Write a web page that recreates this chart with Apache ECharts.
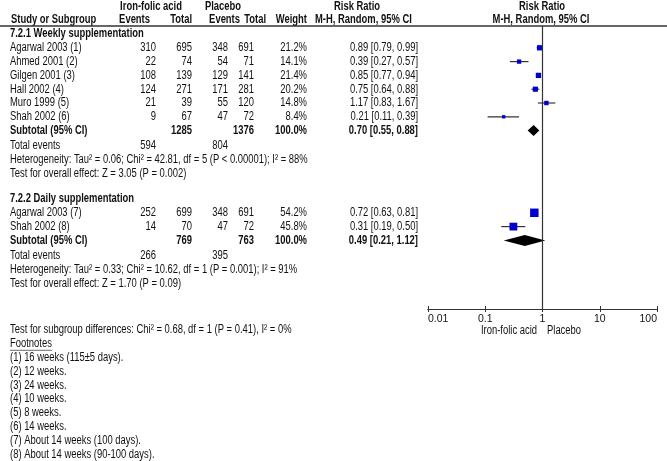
<!DOCTYPE html>
<html><head><meta charset="utf-8">
<script src="https://cdn.jsdelivr.net/npm/echarts@6/dist/echarts.min.js"></script>
<style>html,body{margin:0;padding:0;background:#fff}#c{width:667px;height:461px}</style>
</head><body><div id="c"></div>
<script>
// ---------------- data ----------------
const groupTitles = ['7.2.1 Weekly supplementation', '7.2.2 Daily supplementation'];

const g1Studies = ['Agarwal 2003 (1)', 'Ahmed 2001 (2)', 'Gilgen 2001 (3)', 'Hall 2002 (4)', 'Muro 1999 (5)', 'Shah 2002 (6)'];
const g1IronEvents = [310, 22, 108, 124, 21, 9];
const g1IronTotal = [695, 74, 139, 271, 39, 67];
const g1PlacEvents = [348, 54, 129, 171, 55, 47];
const g1PlacTotal = [691, 71, 141, 281, 120, 72];
const g1Weight = [21.2, 14.1, 21.4, 20.2, 14.8, 8.4];
const g1RR = [0.89, 0.39, 0.85, 0.75, 1.17, 0.21];
const g1Lo = [0.79, 0.27, 0.77, 0.64, 0.83, 0.11];
const g1Hi = [0.99, 0.57, 0.94, 0.88, 1.67, 0.39];

const g2Studies = ['Agarwal 2003 (7)', 'Shah 2002 (8)'];
const g2IronEvents = [252, 14];
const g2IronTotal = [699, 70];
const g2PlacEvents = [348, 47];
const g2PlacTotal = [691, 72];
const g2Weight = [54.2, 45.8];
const g2RR = [0.72, 0.31];
const g2Lo = [0.63, 0.19];
const g2Hi = [0.81, 0.50];

const subIronTotal = [1285, 769];
const subPlacTotal = [1376, 763];
const subWeight = [100.0, 100.0];
const subRR = [0.70, 0.49];
const subLo = [0.55, 0.21];
const subHi = [0.88, 1.12];
const totIronEvents = [594, 266];
const totPlacEvents = [804, 395];

const heterogeneity = [
  'Heterogeneity: Tau\u00B2 = 0.06; Chi\u00B2 = 42.81, df = 5 (P < 0.00001); I\u00B2 = 88%',
  'Heterogeneity: Tau\u00B2 = 0.33; Chi\u00B2 = 10.62, df = 1 (P = 0.001); I\u00B2 = 91%'
];
const overallEffect = [
  'Test for overall effect: Z = 3.05 (P = 0.002)',
  'Test for overall effect: Z = 1.70 (P = 0.09)'
];
const subgroupDiff = 'Test for subgroup differences: Chi\u00B2 = 0.68, df = 1 (P = 0.41), I\u00B2 = 0%';
const footnotes = [
  '(1) 16 weeks (115\u00B15 days).',
  '(2) 12 weeks.',
  '(3) 24 weeks.',
  '(4) 10 weeks.',
  '(5) 8 weeks.',
  '(6) 14 weeks.',
  '(7) About 14 weeks (100 days).',
  '(8) About 14 weeks (90-100 days).'
];
const axisTickLabels = ['0.01', '0.1', '1', '10', '100'];
const favoursLeft = 'Iron-folic acid';
const favoursRight = 'Placebo';

// ---------------- layout ----------------
const groups = [
  {studies: g1Studies, ie: g1IronEvents, it: g1IronTotal, pe: g1PlacEvents, pt: g1PlacTotal, w: g1Weight, rr: g1RR, lo: g1Lo, hi: g1Hi},
  {studies: g2Studies, ie: g2IronEvents, it: g2IronTotal, pe: g2PlacEvents, pt: g2PlacTotal, w: g2Weight, rr: g2RR, lo: g2Lo, hi: g2Hi}
];
const PITCH = 13.8;
const groupStartY = [34, 199];
const LINE_Y = 26, AXIS_Y = 309;
const X = {name: 10, ie: 156, it: 192, pe: 228, pt: 254, w: 307, rr: 418};
const FONT = '"Liberation Sans", Arial, sans-serif';
const FS = 12;
const SX = 0.785;
const COL = '#111';

const texts = [];
function T(text, x, y, align, bold) { texts.push({text: String(text), x, y, align: align || 'left', bold: !!bold}); }
const f2 = v => v.toFixed(2);
const ci = (r, l, h) => f2(r) + ' [' + f2(l) + ', ' + f2(h) + ']';

// headers
T('Iron-folic acid', 151, 7, 'center', true);
T('Placebo', 223, 7, 'center', true);
T('Risk Ratio', 334, 7, 'left', true);
T('Risk Ratio', 542, 7, 'center', true);
T('Study or Subgroup', 11, 20, 'left', true);
T('Events', 150, 20, 'right', true);
T('Total', 192, 20, 'right', true);
T('Events', 240, 20, 'right', true);
T('Total', 266, 20, 'right', true);
T('Weight', 307, 20, 'right', true);
T('M-H, Random, 95% CI', 315, 20, 'left', true);
T('M-H, Random, 95% CI', 541, 20, 'center', true);

const studyPts = [], diamondPts = [];
groups.forEach((g, gi) => {
  const y0 = groupStartY[gi];
  T(groupTitles[gi], X.name, y0, 'left', true);
  const n = g.studies.length;
  for (let i = 0; i < n; i++) {
    const y = y0 + PITCH * (i + 1);
    T(g.studies[i], X.name, y);
    T(g.ie[i], X.ie, y, 'right');
    T(g.it[i], X.it, y, 'right');
    T(g.pe[i], X.pe, y, 'right');
    T(g.pt[i], X.pt, y, 'right');
    T(g.w[i].toFixed(1) + '%', X.w, y, 'right');
    T(ci(g.rr[i], g.lo[i], g.hi[i]), X.rr, y, 'right');
    studyPts.push([g.rr[i], g.lo[i], g.hi[i], y, g.w[i]]);
  }
  const ys = y0 + PITCH * (n + 1);
  T('Subtotal (95% CI)', X.name, ys, 'left', true);
  T(subIronTotal[gi], X.it, ys, 'right', true);
  T(subPlacTotal[gi], X.pt, ys, 'right', true);
  T(subWeight[gi].toFixed(1) + '%', X.w, ys, 'right', true);
  T(ci(subRR[gi], subLo[gi], subHi[gi]), X.rr, ys, 'right', true);
  diamondPts.push([subRR[gi], subLo[gi], subHi[gi], ys]);
  const yt = y0 + PITCH * (n + 2) + 1.6;
  T('Total events', X.name, yt);
  T(totIronEvents[gi], X.ie, yt, 'right');
  T(totPlacEvents[gi], X.pe, yt, 'right');
  T(heterogeneity[gi], X.name, yt + PITCH);
  T(overallEffect[gi], X.name, yt + PITCH * 2);
});
T(subgroupDiff, X.name, 330);
const footY = 343.8;
T('Footnotes', X.name, footY);
footnotes.forEach((s, i) => T(s, X.name, footY + PITCH * (i + 1)));
T(favoursLeft, 537, 331, 'right');
T(favoursRight, 547, 331, 'left');

// measure "Footnotes" for underline
const ctx = document.createElement('canvas').getContext('2d');
ctx.font = FS + 'px ' + FONT;
const footW = ctx.measureText('Footnotes').width * SX;

const graphics = texts.map(t => ({
  type: 'text', silent: true,
  x: t.x, y: t.y, scaleX: SX, scaleY: 1,
  style: {
    text: t.text, x: 0, y: 0,
    font: (t.bold ? 'bold ' : '') + FS + 'px ' + FONT,
    fill: COL,
    align: t.align, textAlign: t.align,
    verticalAlign: 'middle', textVerticalAlign: 'middle'
  }
}));
graphics.push({type: 'line', silent: true, shape: {x1: 0, y1: LINE_Y, x2: 667, y2: LINE_Y}, style: {stroke: '#333', lineWidth: 1.3}});
graphics.push({type: 'line', silent: true, shape: {x1: X.name, y1: footY + 6.5, x2: X.name + footW, y2: footY + 6.5}, style: {stroke: '#444', lineWidth: 0.8}});

const chart = echarts.init(document.getElementById('c'), null, {renderer: 'canvas'});
const axisBase = {
  type: 'log', logBase: 10, min: 0.01, max: 100, gridIndex: 0, position: 'bottom',
  splitLine: {show: false},
  axisLine: {show: true, lineStyle: {color: '#333', width: 1.2}},
};
chart.setOption({
  animation: false,
  backgroundColor: '#fff',
  grid: {left: 428, width: 229, top: LINE_Y, height: AXIS_Y - LINE_Y, containLabel: false},
  xAxis: [
    Object.assign({}, axisBase, {
      axisTick: {show: true, inside: false, length: 3, lineStyle: {color: '#333'}},
      axisLabel: {show: true, margin: 5, color: COL, fontSize: 10.5, fontFamily: FONT,
        alignMinLabel: 'left', alignMaxLabel: 'right',
        formatter: v => { const i = Math.round(Math.log10(v)) + 2; return axisTickLabels[i] || ''; }}
    }),
    Object.assign({}, axisBase, {
      axisTick: {show: true, inside: true, length: 3, lineStyle: {color: '#333'}},
      axisLabel: {show: false}
    })
  ],
  yAxis: {type: 'value', min: LINE_Y, max: AXIS_Y, inverse: true, show: false},
  series: [
    {
      type: 'custom', xAxisIndex: 0, yAxisIndex: 0,
      data: diamondPts, encode: {x: [0, 1, 2], y: 3},
      markLine: {silent: true, symbol: 'none', label: {show: false},
        lineStyle: {color: '#333', width: 1.2, type: 'solid'}, data: [{xAxis: 1}]},
      renderItem: (p, api) => {
        const c = api.coord([api.value(0), api.value(3)]);
        const l = api.coord([api.value(1), api.value(3)]);
        const h = api.coord([api.value(2), api.value(3)]);
        const hh = 5.5;
        return {type: 'polygon', shape: {points: [[l[0], c[1]], [c[0], c[1] - hh], [h[0], c[1]], [c[0], c[1] + hh]]},
          style: {fill: '#000'}};
      }
    },
    {
      type: 'custom', xAxisIndex: 0, yAxisIndex: 0,
      data: studyPts, encode: {x: [0, 1, 2], y: 3},
      renderItem: (p, api) => {
        const c = api.coord([api.value(0), api.value(3)]);
        const l = api.coord([api.value(1), api.value(3)]);
        const h = api.coord([api.value(2), api.value(3)]);
        const s = Math.max(3, 1.15 * Math.sqrt(api.value(4)));
        return {type: 'group', children: [
          {type: 'line', shape: {x1: l[0], y1: c[1], x2: h[0], y2: c[1]}, style: {stroke: '#333', lineWidth: 1.2}},
          {type: 'rect', shape: {x: c[0] - s / 2, y: c[1] - s / 2, width: s, height: s}, style: {fill: '#0000cc'}}
        ]};
      }
    }
  ],
  graphic: graphics
});
</script>
</body></html>
